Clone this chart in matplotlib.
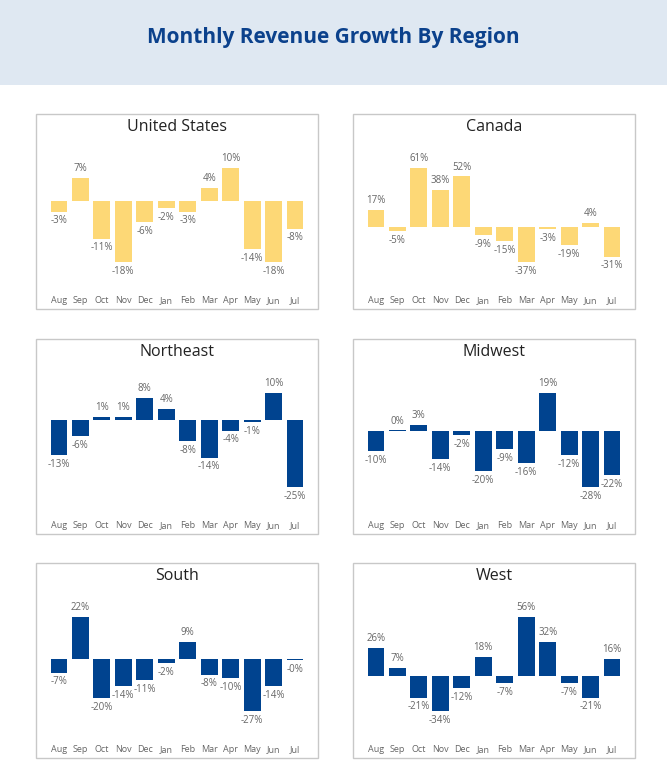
import matplotlib
matplotlib.use("Agg")
import matplotlib.pyplot as plt
from matplotlib.patches import Rectangle

plt.rcParams['font.family'] = ['Open Sans', 'DejaVu Sans']

months = ["Aug", "Sep", "Oct", "Nov", "Dec", "Jan", "Feb", "Mar", "Apr", "May", "Jun", "Jul"]
us = [-3, 7, -11, -18, -6, -2, -3, 4, 10, -14, -18, -8]
canada = [17, -5, 61, 38, 52, -9, -15, -37, -3, -19, 4, -31]
northeast = [-13, -6, 1, 1, 8, 4, -8, -14, -4, -1, 10, -25]
midwest = [-10, 0.3, 3, -14, -2, -20, -9, -16, 19, -12, -28, -22]
south = [-7, 22, -20, -14, -11, -2, 9, -8, -10, -27, -14, -0.3]
west = [26, 7, -21, -34, -12, 18, -7, 56, 32, -7, -21, 16]

panels = [
    ("United States", us, "#fdd876"),
    ("Canada", canada, "#fdd876"),
    ("Northeast", northeast, "#00438f"),
    ("Midwest", midwest, "#00438f"),
    ("South", south, "#00438f"),
    ("West", west, "#00438f"),
]

W, H = 667, 775
fig = plt.figure(figsize=(W / 100, H / 100), dpi=100)
fig.patch.set_facecolor("white")

fig.patches.append(Rectangle((0, 1 - 85 / H), 1, 85 / H, transform=fig.transFigure,
                             facecolor="#dfe8f2", edgecolor="none", zorder=0))
fig.text(0.5, 1 - 37 / H, "Monthly Revenue Growth By Region", ha="center", va="center",
         fontsize=15, fontweight="bold", color="#0b418c")

boxes_x = [36, 353]
boxes_y = [114, 339, 563]
bw, bh = 282, 195

for i, (name, vals, color) in enumerate(panels):
    px = boxes_x[i % 2]
    py = boxes_y[i // 2]
    fig.patches.append(Rectangle((px / W, 1 - (py + bh) / H), bw / W, bh / H,
                                 transform=fig.transFigure, facecolor="none",
                                 edgecolor="#c8c8c8", linewidth=1, zorder=0))
    fig.text((px + bw / 2) / W, 1 - (py + 13) / H, name, ha="center", va="center",
             fontsize=11.5, color="#222222")
    ax = fig.add_axes([(px + 10) / W, 1 - (py + 171) / H, (bw - 20) / W, 140 / H])
    ax.set_zorder(5)
    ax.set_facecolor("none")
    x = list(range(len(months)))
    ax.bar(x, vals, width=0.78, color=color)
    lo, hi = min(min(vals), 0), max(max(vals), 0)
    pad = 0.24 * (hi - lo)
    ax.set_ylim(lo - pad, hi + pad)
    ax.set_xlim(-0.6, 11.6)
    off = 0.04 * (hi - lo)
    for xi, v in zip(x, vals):
        lab = f"{v:.0f}%"
        if v >= 0:
            ax.text(xi, v + off, lab, ha="center", va="bottom", fontsize=7, color="#666666")
        else:
            ax.text(xi, v - off, lab, ha="center", va="top", fontsize=7, color="#666666")
    for s in ax.spines.values():
        s.set_visible(False)
    ax.set_yticks([])
    ax.set_xticks(x)
    ax.set_xticklabels(months, fontsize=6.5, color="#666666")
    ax.tick_params(axis="x", length=0, pad=8)

fig.savefig("out.png", dpi=100)
